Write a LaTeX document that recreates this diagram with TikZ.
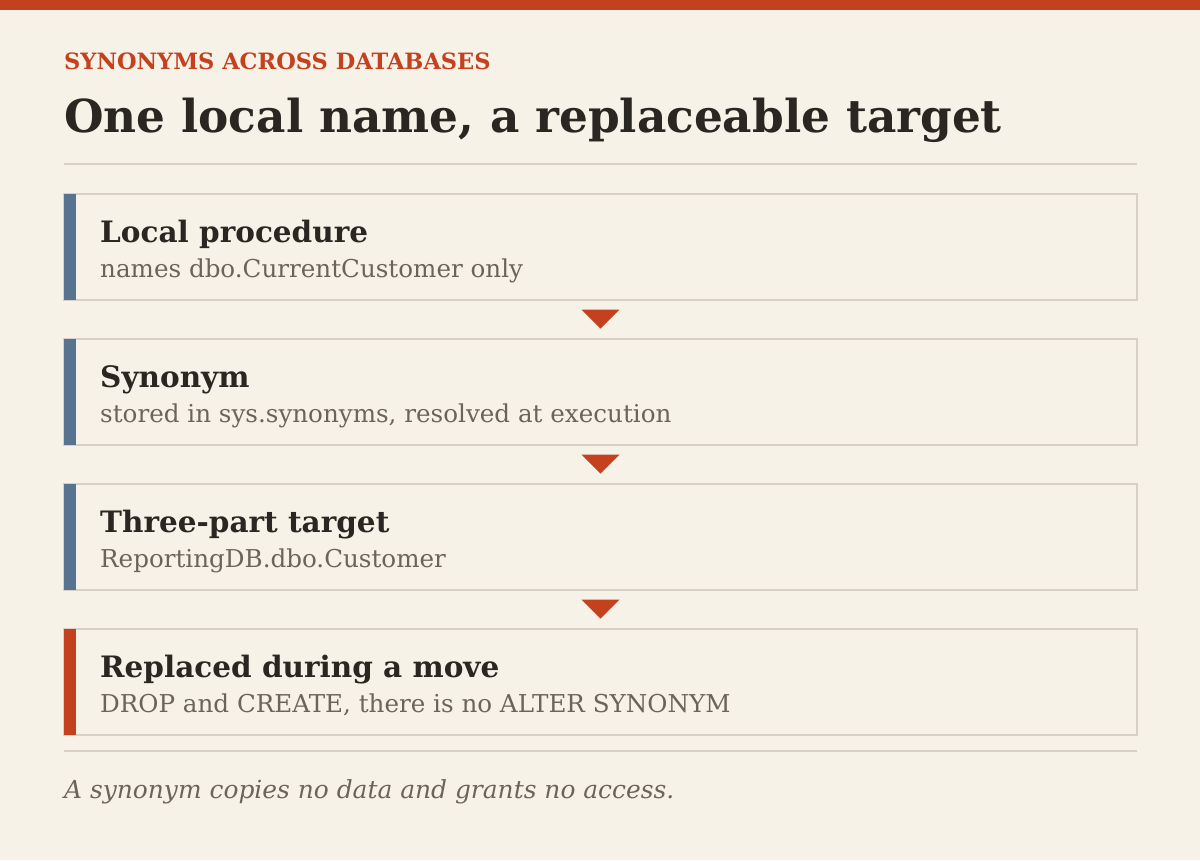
\documentclass[tikz,border=0pt]{standalone}
\usepackage{fontspec}
\setmainfont{DejaVu Serif}
\usetikzlibrary{positioning,calc}

\definecolor{paper}{HTML}{F7F2E8}
\definecolor{rust}{HTML}{C4411F}
\definecolor{slate}{HTML}{587390}
\definecolor{rulegrey}{HTML}{D8D0C4}
\definecolor{ink}{HTML}{2A2622}
\definecolor{mute}{HTML}{6B645B}

\begin{document}
\begin{tikzpicture}[x=1pt,y=-1pt,
	stepbox/.style={draw=rulegrey,line width=1.5pt,fill=paper,minimum width=1073pt,minimum height=106pt,inner sep=0pt,outer sep=0pt},
	steptitle/.style={anchor=base west,inner sep=0pt,text=ink,font=\fontsize{29.5}{34}\selectfont\bfseries},
	stepnote/.style={anchor=base west,inner sep=0pt,text=mute,font=\fontsize{24.6}{28}\selectfont}]
	%Page size and margins
	\pgfmathsetmacro{\W}{1200}
	\pgfmathsetmacro{\H}{860}
	\pgfmathsetmacro{\bar}{12}
	\useasboundingbox (0,0) rectangle (\W,\H);
	\fill[paper] (0,0) rectangle (\W,\H);
	\fill[rust] (0,0) rectangle (\W,10);

	%Heading
	\node[anchor=base west,inner sep=0pt,text=rust,font=\fontsize{22.5}{26}\selectfont\bfseries] (kicker) at (64,69) {SYNONYMS ACROSS DATABASES};
	\node[anchor=base west,inner sep=0pt,text=ink,font=\fontsize{45.4}{52}\selectfont\bfseries] (title) at (64,132) {One local name, a replaceable target};
	\draw[rulegrey,line width=1.5pt] (64,164) coordinate (rtop) -- (1137,164);

	%The four boxes
	\node[stepbox,anchor=north west] (b1) at (64,194) {};
	\node[stepbox,below=39pt of b1] (b2) {};
	\node[stepbox,below=39pt of b2] (b3) {};
	\node[stepbox,below=39pt of b3] (b4) {};

	%Left bars
	\fill[slate] (b1.north west) rectangle ([xshift=\bar pt]b1.south west);
	\fill[slate] (b2.north west) rectangle ([xshift=\bar pt]b2.south west);
	\fill[slate] (b3.north west) rectangle ([xshift=\bar pt]b3.south west);
	\fill[rust] (b4.north west) rectangle ([xshift=\bar pt]b4.south west);

	%Texts in the boxes
	\node[steptitle] (t1) at ([xshift=36pt,yshift=-48pt]b1.north west) {Local procedure};
	\node[stepnote] (n1) at ([xshift=36pt,yshift=-83pt]b1.north west) {names dbo.CurrentCustomer only};
	\node[steptitle] (t2) at ([xshift=36pt,yshift=-48pt]b2.north west) {Synonym};
	\node[stepnote] (n2) at ([xshift=36pt,yshift=-83pt]b2.north west) {stored in sys.synonyms, resolved at execution};
	\node[steptitle] (t3) at ([xshift=36pt,yshift=-48pt]b3.north west) {Three-part target};
	\node[stepnote] (n3) at ([xshift=36pt,yshift=-83pt]b3.north west) {ReportingDB.dbo.Customer};
	\node[steptitle] (t4) at ([xshift=36pt,yshift=-48pt]b4.north west) {Replaced during a move};
	\node[stepnote] (n4) at ([xshift=36pt,yshift=-83pt]b4.north west) {DROP and CREATE, there is no ALTER SYNONYM};

	%Arrow heads between the boxes
	\coordinate (m1) at ($(b1.south)!0.5!(b2.north)$);
	\coordinate (m2) at ($(b2.south)!0.5!(b3.north)$);
	\coordinate (m3) at ($(b3.south)!0.5!(b4.north)$);
	\fill[rust] ($(m1)+(-19,-10)$) -- ($(m1)+(19,-10)$) -- ($(m1)+(0,9)$) -- cycle;
	\fill[rust] ($(m2)+(-19,-10)$) -- ($(m2)+(19,-10)$) -- ($(m2)+(0,9)$) -- cycle;
	\fill[rust] ($(m3)+(-19,-10)$) -- ($(m3)+(19,-10)$) -- ($(m3)+(0,9)$) -- cycle;

	%Footer
	\draw[rulegrey,line width=1.5pt] ([yshift=-16pt]b4.south west) coordinate (rbot) -- ([yshift=-16pt]b4.south east);
	\node[anchor=base west,inner sep=0pt,text=mute,font=\fontsize{24.9}{28}\selectfont\itshape] (foot) at (64,798) {A synonym copies no data and grants no access.};
\end{tikzpicture}
\end{document}
